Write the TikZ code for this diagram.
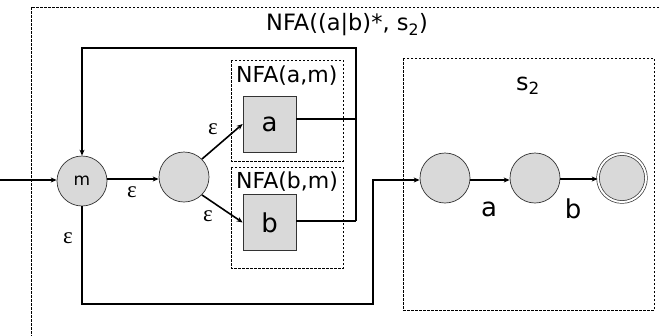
\documentclass[tikz,border=0pt]{standalone}
\usepackage{fontspec}
\setmainfont{DejaVu Sans}
\newfontfamily\epsfont{Liberation Serif}
\usetikzlibrary{arrows.meta}
\definecolor{stfill}{HTML}{D9D9D9}
\begin{document}
\begin{tikzpicture}[x=1pt,y=-1pt,
  st/.style={circle,draw=black!80,line width=0.7pt,fill=stfill,minimum size=50pt,inner sep=0pt},
  sbox/.style={rectangle,draw=black!80,line width=0.7pt,fill=stfill,minimum width=53pt,minimum height=56pt,inner sep=0pt,font=\fontsize{26}{28}\selectfont},
  region/.style={draw,dashed,dash pattern=on 2.5pt off 1.5pt,line width=0.6pt},
  conn/.style={line width=1.6pt},
  arr/.style={conn,-{Stealth[length=6pt,width=5pt]}},
  eps/.style={font=\epsfont\fontsize{23}{24}\selectfont},
  lbl/.style={font=\fontsize{22.5}{24}\selectfont},
  sublbl/.style={anchor=west,inner sep=0pt,font=\fontsize{22}{24}\selectfont}
]
\useasboundingbox (0,0) rectangle (660,335);
\clip (0,0) rectangle (660,335);
% outer region
\draw[region] (31,7) rectangle (700,380);
\node[lbl] (title) at (347,25) {NFA((a|b)*, s\textsubscript{2})};
% sub regions
\draw[region] (231,60) rectangle (343,161);
\node[sublbl] (la) at (236,76) {NFA(a,m)};
\draw[region] (231,167) rectangle (343,268);
\node[sublbl] (lb) at (236,182) {NFA(b,m)};
\draw[region] (403,58) rectangle (654,310);
\node[lbl,font=\fontsize{24}{26}\selectfont] (ls) at (528,86) {s\textsubscript{2}};
% states
\node[st,font=\fontsize{17}{18}\selectfont] (m) at (82,181) {m};
\node[st] (n2) at (184,177) {};
\node[sbox] (A) at (269.5,124) {a};
\node[sbox] (B) at (269.5,222.5) {b};
\node[st] (q1) at (445,178) {};
\node[st] (q2) at (535,178) {};
\node[st,double=white,double distance=2pt,minimum size=48pt] (q3) at (622,178) {};
% helper coordinates
\coordinate (start) at (0,180);
\coordinate (ra) at (356,119);
\coordinate (rb) at (356,221);
\coordinate (top) at (356,48);
\coordinate (topl) at (82,48);
\coordinate (bl) at (82,304);
\coordinate (br) at (373,304);
\coordinate (bu) at (373,180);
% connectors
\draw[arr] (start) -- (m.west |- start);
\draw[arr] (m.east |- 0,179) -- (n2.west |- 0,179);
\draw[arr] (n2.north east) -- (A.west);
\draw[arr] (n2.south east) -- (B.west);
\draw[conn] (A.east |- ra) -- (ra);
\draw[conn] (B.east |- rb) -- (rb);
\draw[arr] (rb) -- (top) -- (topl) -- (m.north);
\draw[arr] (m.south) -- (bl) -- (br) -- (bu) -- (q1.west |- bu);
\draw[arr] (q1.east |- 0,180) -- (q2.west |- 0,180);
\draw[arr] (q2.east |- 0,179) -- (q3.west |- 0,179);
% labels
\node[eps] (e1) at (132,192) {ε};
\node[eps] (e2) at (213,129) {ε};
\node[eps] (e3) at (208,216) {ε};
\node[eps] (e4) at (68,238) {ε};
\node[lbl,font=\fontsize{26}{28}\selectfont] (la2) at (489,209) {a};
\node[lbl,font=\fontsize{26}{28}\selectfont] (lb2) at (573,209) {b};
\end{tikzpicture}
\end{document}
